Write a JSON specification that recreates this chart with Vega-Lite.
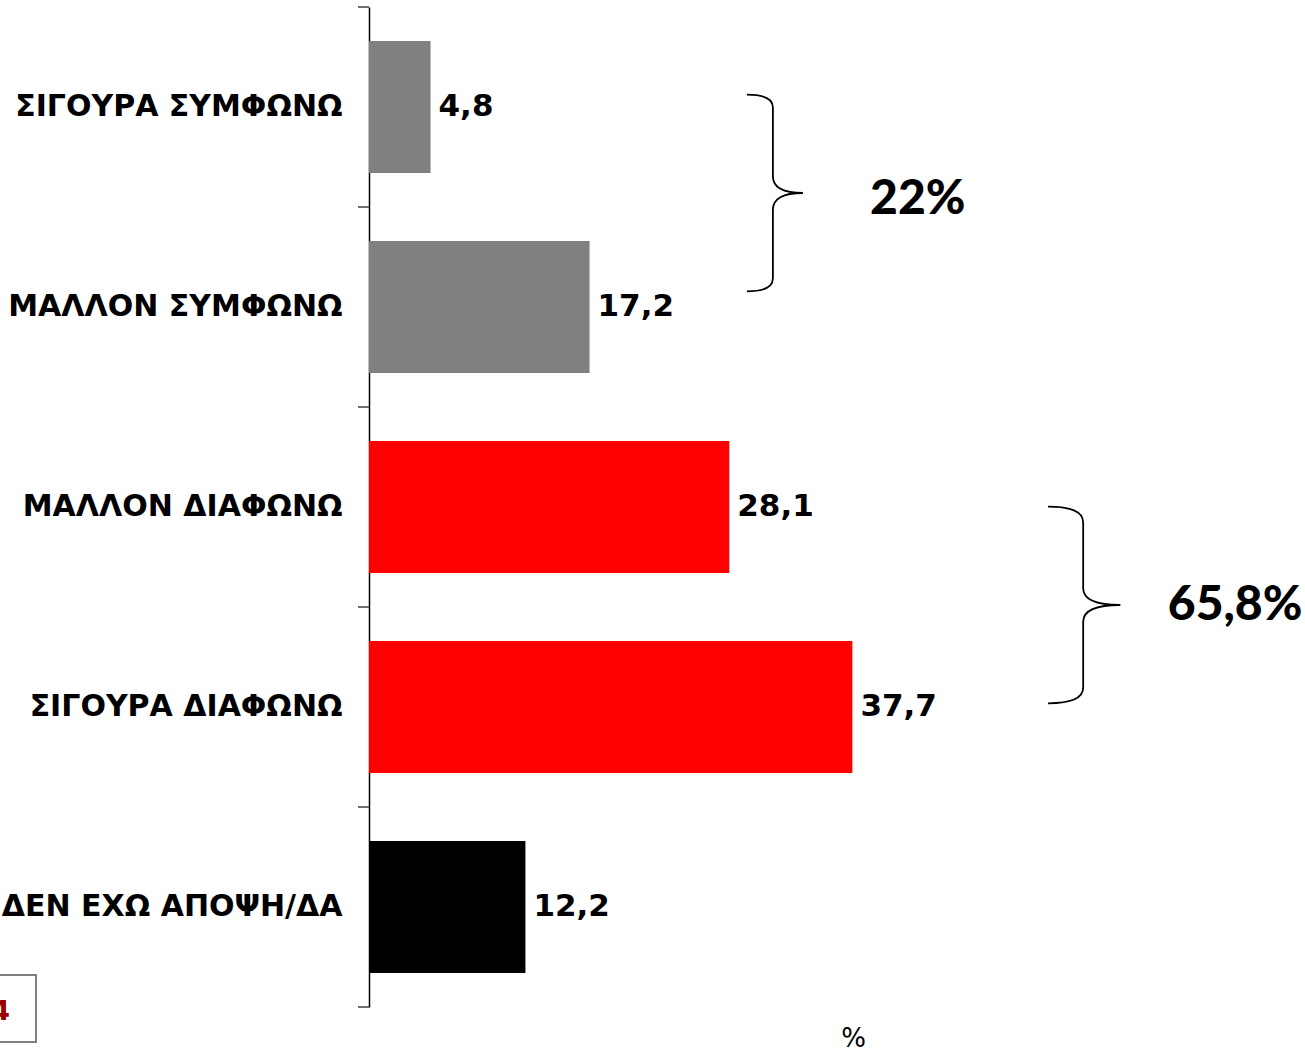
{
  "$schema": "https://vega.github.io/schema/vega-lite/v6.json",
  "autosize": {"type": "none"},
  "padding": {"left": 369, "top": 7, "right": 0, "bottom": 44},
  "width": 936,
  "height": 1000,
  "background": "white",
  "config": {"view": {"stroke": null}},
  "datasets": {
    "bars": [
      {"cat": "ΣΙΓΟΥΡΑ ΣΥΜΦΩΝΩ", "value": 4.8, "label": "4,8", "group": "agree"},
      {"cat": "ΜΑΛΛΟΝ ΣΥΜΦΩΝΩ", "value": 17.2, "label": "17,2", "group": "agree"},
      {"cat": "ΜΑΛΛΟΝ ΔΙΑΦΩΝΩ", "value": 28.1, "label": "28,1", "group": "disagree"},
      {"cat": "ΣΙΓΟΥΡΑ ΔΙΑΦΩΝΩ", "value": 37.7, "label": "37,7", "group": "disagree"},
      {"cat": "ΔΕΝ ΕΧΩ ΑΠΟΨΗ/ΔΑ", "value": 12.2, "label": "12,2", "group": "dk"}
    ],
    "ticks": [{"b": 0}, {"b": 1}, {"b": 2}, {"b": 3}, {"b": 4}, {"b": 5}],
    "braces": [
      {"brace": "b1", "x": 31.5, "y": 0.93},
      {"brace": "b2", "x": 55.7, "y": 2.99}
    ],
    "notes": [
      {"t": "22%", "x": 42.8, "y": 0.9625},
      {"t": "65,8%", "x": 67.55, "y": 2.995}
    ],
    "page": [{"t": "4", "x0": -32, "x1": -25.97, "y0": 4.84, "y1": 5.175, "tx": -28.0, "ty": 5.025}]
  },
  "resolve": {"scale": {"y": "independent"}},
  "layer": [
    {
      "data": {"name": "bars"},
      "mark": {"type": "bar"},
      "encoding": {
        "y": {
          "field": "cat", "type": "nominal",
          "sort": ["ΣΙΓΟΥΡΑ ΣΥΜΦΩΝΩ", "ΜΑΛΛΟΝ ΣΥΜΦΩΝΩ", "ΜΑΛΛΟΝ ΔΙΑΦΩΝΩ", "ΣΙΓΟΥΡΑ ΔΙΑΦΩΝΩ", "ΔΕΝ ΕΧΩ ΑΠΟΨΗ/ΔΑ"],
          "scale": {"paddingInner": 0.34, "paddingOuter": 0.17},
          "axis": {
            "title": null, "ticks": false, "domainColor": "#000000", "domainWidth": 1.5,
            "labelFont": "DejaVu Sans", "labelFontWeight": "bold", "labelFontSize": 30,
            "labelColor": "#000000", "labelPadding": 27, "labelLimit": 0
          }
        },
        "x": {
          "field": "value", "type": "quantitative",
          "scale": {"domain": [0, 73], "nice": false, "zero": true},
          "axis": {
            "title": "%", "domain": false, "ticks": false, "labels": false, "grid": false,
            "titleX": 484, "titleY": 31, "titleAlign": "center", "titleBaseline": "middle",
            "titleFont": "DejaVu Sans", "titleFontWeight": "normal", "titleFontSize": 26, "titleColor": "#000000"
          }
        },
        "color": {
          "field": "group", "type": "nominal",
          "scale": {"domain": ["agree", "disagree", "dk"], "range": ["#808080", "#FF0000", "#000000"]},
          "legend": null
        }
      }
    },
    {
      "data": {"name": "bars"},
      "mark": {"type": "text", "align": "left", "baseline": "middle", "dx": 8, "font": "DejaVu Sans", "fontWeight": "bold", "fontSize": 31, "color": "#000000"},
      "encoding": {
        "y": {
          "field": "cat", "type": "nominal",
          "sort": ["ΣΙΓΟΥΡΑ ΣΥΜΦΩΝΩ", "ΜΑΛΛΟΝ ΣΥΜΦΩΝΩ", "ΜΑΛΛΟΝ ΔΙΑΦΩΝΩ", "ΣΙΓΟΥΡΑ ΔΙΑΦΩΝΩ", "ΔΕΝ ΕΧΩ ΑΠΟΨΗ/ΔΑ"],
          "scale": {"paddingInner": 0.34, "paddingOuter": 0.17},
          "axis": null
        },
        "x": {"field": "value", "type": "quantitative", "scale": {"domain": [0, 73], "nice": false, "zero": true}},
        "text": {"field": "label"}
      }
    },
    {
      "data": {"name": "ticks"},
      "mark": {"type": "rule", "color": "#404040", "strokeWidth": 1.5},
      "encoding": {
        "y": {"field": "b", "type": "quantitative", "scale": {"domain": [0, 5], "reverse": true, "nice": false, "zero": false}, "axis": null},
        "x": {"datum": -0.86, "type": "quantitative", "scale": {"domain": [0, 73], "nice": false, "zero": true}},
        "x2": {"datum": 0}
      }
    },
    {
      "data": {"name": "braces"},
      "mark": {"type": "point", "filled": false, "stroke": "#000000", "strokeWidth": 1.8, "opacity": 1, "size": 38700},
      "encoding": {
        "y": {"field": "y", "type": "quantitative", "scale": {"domain": [0, 5], "reverse": true, "nice": false, "zero": false}, "axis": null},
        "x": {"field": "x", "type": "quantitative", "scale": {"domain": [0, 73], "nice": false, "zero": true}},
        "shape": {
          "field": "brace", "type": "nominal", "legend": null,
          "scale": {
            "domain": ["b1", "b2"],
            "range": [
              "M -0.264 -1 Q 0 -1 0 -0.87 L 0 -0.17 Q 0 0 0.305 0 Q 0 0 0 0.17 L 0 0.87 Q 0 1 -0.264 1",
              "M -0.357 -1 Q 0 -1 0 -0.84 L 0 -0.17 Q 0 0 0.378 0 Q 0 0 0 0.17 L 0 0.84 Q 0 1 -0.357 1"
            ]
          }
        }
      }
    },
    {
      "data": {"name": "notes"},
      "mark": {"type": "text", "align": "center", "baseline": "middle", "font": "Lato", "fontWeight": 900, "fontSize": 48, "color": "#000000"},
      "encoding": {
        "y": {"field": "y", "type": "quantitative", "scale": {"domain": [0, 5], "reverse": true, "nice": false, "zero": false}, "axis": null},
        "x": {"field": "x", "type": "quantitative", "scale": {"domain": [0, 73], "nice": false, "zero": true}},
        "text": {"field": "t"}
      }
    },
    {
      "data": {"name": "page"},
      "mark": {"type": "rect", "fill": "#FFFFFF", "stroke": "#808080", "strokeWidth": 2},
      "encoding": {
        "y": {"field": "y0", "type": "quantitative", "scale": {"domain": [0, 5], "reverse": true, "nice": false, "zero": false}, "axis": null},
        "y2": {"field": "y1"},
        "x": {"field": "x0", "type": "quantitative", "scale": {"domain": [0, 73], "nice": false, "zero": true}},
        "x2": {"field": "x1"}
      }
    },
    {
      "data": {"name": "page"},
      "mark": {"type": "text", "align": "right", "baseline": "middle", "font": "DejaVu Sans", "fontWeight": "bold", "fontSize": 27, "color": "#990000"},
      "encoding": {
        "y": {"field": "ty", "type": "quantitative", "scale": {"domain": [0, 5], "reverse": true, "nice": false, "zero": false}, "axis": null},
        "x": {"field": "tx", "type": "quantitative", "scale": {"domain": [0, 73], "nice": false, "zero": true}},
        "text": {"field": "t"}
      }
    }
  ]
}
